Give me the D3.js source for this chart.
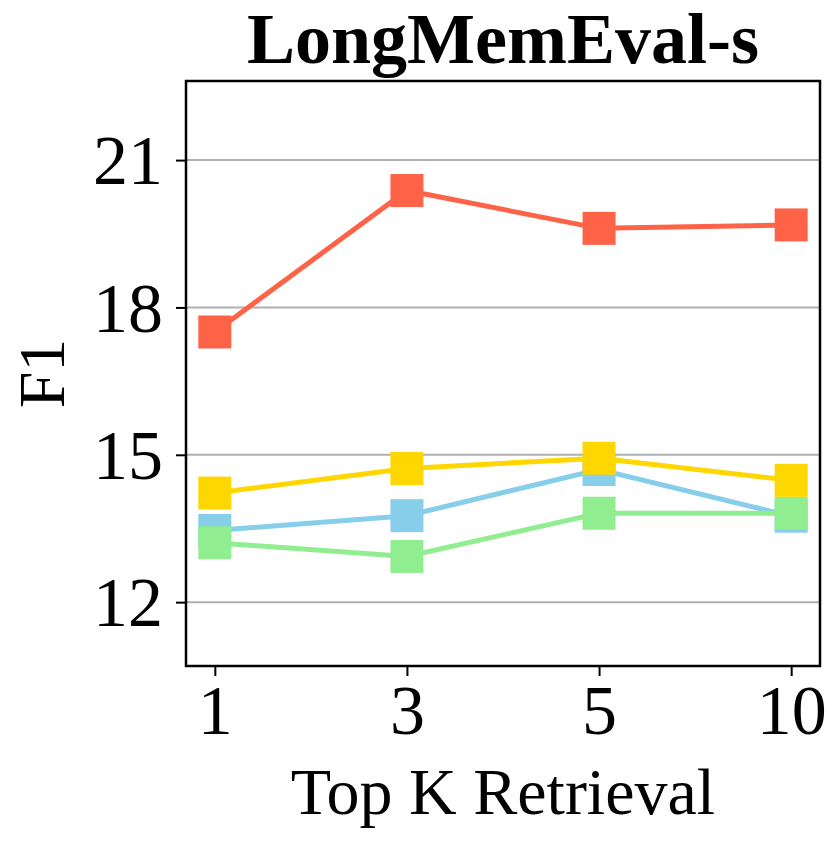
<!DOCTYPE html>
<html>
<head>
<meta charset="utf-8">
<script src="https://cdn.jsdelivr.net/npm/d3@7"></script>
<style>
  body { margin: 0; background: #fff; }
  text { font-family: "Liberation Serif", "Times New Roman", serif; fill: #000; }
</style>
</head>
<body>
<svg width="840" height="842"></svg>
<script>
const titleText = 'LongMemEval-s';
const xAxisLabelText = 'Top K Retrieval';
const yAxisLabelText = 'F1';

const topK = ['1', '3', '5', '10'];
const yTicks = [12, 15, 18, 21];

// one array per method
const redValues = [17.50, 20.38, 19.61, 19.68];
const blueValues = [13.46, 13.76, 14.70, 13.75];
const greenValues = [13.21, 12.93, 13.81, 13.81];
const goldValues = [14.22, 14.72, 14.93, 14.48];

const series = [
  { values: redValues, color: '#FF6347' },
  { values: blueValues, color: '#87CEEB' },
  { values: greenValues, color: '#90EE90' },
  { values: goldValues, color: '#FFD700' }
];

const svg = d3.select('svg');
const width = +svg.attr('width');
const height = +svg.attr('height');

const margin = { top: 81, right: 20, bottom: 176, left: 186 };
const innerWidth = width - margin.left - margin.right;
const innerHeight = height - margin.top - margin.bottom;

const xScale = d3.scalePoint()
  .domain(topK)
  .range([0, innerWidth])
  .padding(0.15);

const yScale = d3.scaleLinear()
  .domain([10.70, 22.61])
  .range([innerHeight, 0]);

const g = svg.append('g')
  .attr('transform', `translate(${margin.left},${margin.top})`);

// horizontal grid
g.append('g')
  .selectAll('line').data(yTicks)
  .enter().append('line')
    .attr('x1', 0)
    .attr('x2', innerWidth)
    .attr('y1', d => yScale(d))
    .attr('y2', d => yScale(d))
    .attr('stroke', '#b0b0b0')
    .attr('stroke-width', 2);

const line = d3.line()
  .x((d, i) => xScale(topK[i]))
  .y(d => yScale(d));

const markerSize = 33;

series.forEach(s => {
  const sg = g.append('g');
  sg.append('path')
    .datum(s.values)
    .attr('d', line)
    .attr('fill', 'none')
    .attr('stroke', s.color)
    .attr('stroke-width', 5);
  sg.selectAll('rect').data(s.values)
    .enter().append('rect')
      .attr('x', (d, i) => xScale(topK[i]) - markerSize / 2)
      .attr('y', d => yScale(d) - markerSize / 2)
      .attr('width', markerSize)
      .attr('height', markerSize)
      .attr('fill', s.color);
});

// axes
const yAxisG = g.append('g')
  .call(d3.axisLeft(yScale).tickValues(yTicks).tickSize(10).tickPadding(13));
yAxisG.select('.domain').remove();
yAxisG.selectAll('.tick line').attr('stroke-width', 2);
yAxisG.selectAll('.tick text')
  .attr('font-size', 70)
  .attr('dy', '0.34em');

const xAxisG = g.append('g')
  .attr('transform', `translate(0,${innerHeight})`)
  .call(d3.axisBottom(xScale).tickSize(10).tickPadding(8));
xAxisG.select('.domain').remove();
xAxisG.selectAll('.tick line').attr('stroke-width', 2);
xAxisG.selectAll('.tick text')
  .attr('font-size', 70)
  .attr('dy', '0.71em');

// frame
g.append('rect')
  .attr('width', innerWidth)
  .attr('height', innerHeight)
  .attr('fill', 'none')
  .attr('stroke', '#000')
  .attr('stroke-width', 2.5);

// labels
svg.append('text')
  .attr('x', margin.left + innerWidth / 2)
  .attr('y', 63)
  .attr('text-anchor', 'middle')
  .attr('font-size', 72)
  .attr('font-weight', 'bold')
  .text(titleText);

svg.append('text')
  .attr('x', margin.left + innerWidth / 2)
  .attr('y', 814)
  .attr('text-anchor', 'middle')
  .attr('font-size', 66)
  .text(xAxisLabelText);

svg.append('text')
  .attr('transform', `translate(64,${margin.top + innerHeight / 2}) rotate(-90)`)
  .attr('text-anchor', 'middle')
  .attr('font-size', 66)
  .text(yAxisLabelText);
</script>
</body>
</html>
